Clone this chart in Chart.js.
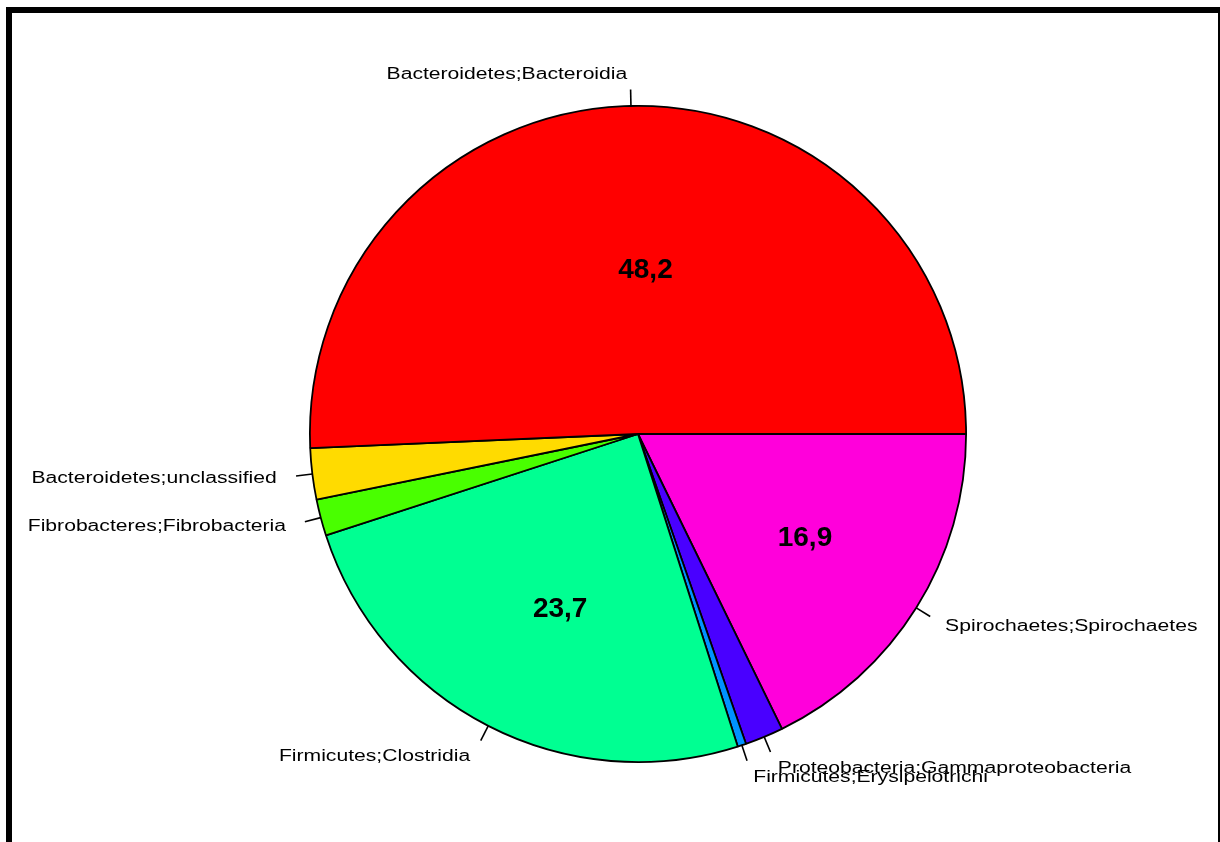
<!DOCTYPE html>
<html lang="en">
<head>
    <meta charset="UTF-8">
    <title>Pie chart</title>
    <script src="https://cdn.jsdelivr.net/npm/chart.js"></script>
    <style>
        html, body {
            margin: 0;
            padding: 0;
            width: 1220px;
            height: 842px;
            overflow: hidden;
            background: #fff;
        }
        #frame {
            position: absolute;
            left: 6px;
            top: 7px;
            width: 1218px;
            height: 900px;
            box-sizing: border-box;
            border: 6px solid #000;
        }
        #pieChart {
            position: absolute;
            left: 0;
            top: 0;
        }
    </style>
</head>
<body>
    <div id="frame"></div>
    <canvas id="pieChart" width="1220" height="842"></canvas>

    <script>
        // classes, in the order R draws them (counter-clockwise from 3 o'clock)
        const categories = [
            'Bacteroidetes;Bacteroidia',
            'Bacteroidetes;unclassified',
            'Fibrobacteres;Fibrobacteria',
            'Firmicutes;Clostridia',
            'Firmicutes;Erysipelotrichi',
            'Proteobacteria;Gammaproteobacteria',
            'Spirochaetes;Spirochaetes'
        ];
        const values = [48.2, 2.4, 1.7, 23.7, 0.4, 1.8, 16.9];
        // rainbow(7)
        const colors = ['#FF0000', '#FFDB00', '#49FF00', '#00FF92', '#0092FF', '#4900FF', '#FF00DB'];

        // only the big slices get a number inside
        const valueLabels = values.map(v => v >= 10 ? v.toFixed(1).replace('.', ',') : '');

        // chart.js goes clockwise, so feed it reversed and start at 3 o'clock
        const rev = arr => arr.slice().reverse();

        const pieLabels = {
            id: 'pieLabels',
            afterDatasetsDraw(chart) {
                const ctx = chart.ctx;
                const arcs = chart.getDatasetMeta(0).data;
                const names = rev(categories);
                const inner = rev(valueLabels);
                // small nudges for the inside numbers (radius fraction, dx)
                const place = { '48,2': [0.5, 11], '23,7': [0.6, 12], '16,9': [0.6, 0] };

                ctx.save();
                arcs.forEach((arc, i) => {
                    const mid = (arc.startAngle + arc.endAngle) / 2;
                    const c = Math.cos(mid), s = Math.sin(mid);
                    const r = arc.outerRadius;

                    // tick line
                    ctx.strokeStyle = '#000';
                    ctx.lineWidth = 1.6;
                    ctx.beginPath();
                    ctx.moveTo(arc.x + r * c, arc.y + r * s);
                    ctx.lineTo(arc.x + 1.05 * r * c, arc.y + 1.05 * r * s);
                    ctx.stroke();

                    // outer label, windows text is wide so stretch it a bit
                    const lx = arc.x + 1.1 * r * c;
                    const ly = arc.y + 1.1 * r * s;
                    const sx = 1.32;
                    ctx.save();
                    ctx.font = '16px "Liberation Sans", Arial, sans-serif';
                    ctx.fillStyle = '#000';
                    ctx.textBaseline = 'middle';
                    ctx.textAlign = c < 0 ? 'right' : 'left';
                    ctx.translate(lx + (c < 0 ? -3 : 1), ly);
                    ctx.scale(sx, 1);
                    ctx.fillText(names[i], 0, 1);
                    ctx.restore();

                    // inside number
                    if (inner[i]) {
                        const p = place[inner[i]] || [0.55, 0];
                        ctx.font = 'bold 28px "Liberation Sans", Arial, sans-serif';
                        ctx.fillStyle = '#000';
                        ctx.textAlign = 'center';
                        ctx.textBaseline = 'middle';
                        ctx.fillText(inner[i], arc.x + p[0] * r * c + p[1], arc.y + p[0] * r * s);
                    }
                });
                ctx.restore();
            }
        };

        const ctx = document.getElementById('pieChart').getContext('2d');
        new Chart(ctx, {
            type: 'pie',
            data: {
                labels: rev(categories),
                datasets: [{
                    data: rev(values),
                    backgroundColor: rev(colors),
                    borderColor: '#000',
                    borderWidth: 1.8,
                    hoverOffset: 0,
                    offset: 0
                }]
            },
            options: {
                responsive: false,
                animation: false,
                devicePixelRatio: 1,
                rotation: 90,
                layout: {
                    padding: { left: 309, right: 253, top: 105, bottom: 79 }
                },
                plugins: {
                    legend: { display: false },
                    tooltip: { enabled: false }
                }
            },
            plugins: [pieLabels]
        });
    </script>
</body>
</html>
